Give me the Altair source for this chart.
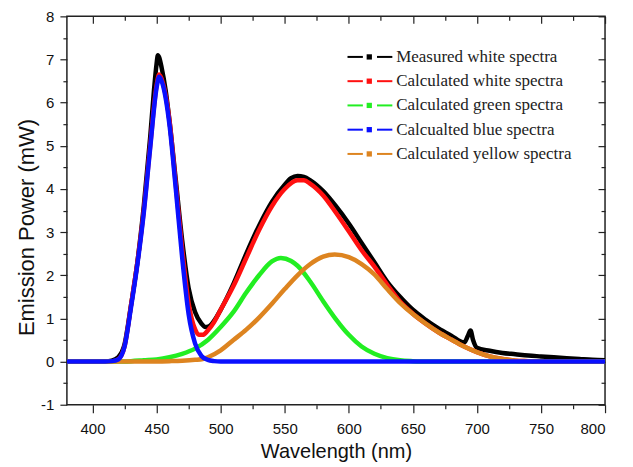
import altair as alt
import pandas as pd

# ---------------- data ----------------
wl_meas = [380, 390, 400, 410, 415, 420, 425, 430, 435, 440, 445, 448, 450, 451, 452, 454, 457,
           460, 465, 470, 475, 480, 485, 488, 491, 495, 500, 510, 520, 530, 540, 550, 555, 560,
           565, 570, 580, 590, 600, 610, 620, 630, 640, 650, 660, 670, 680, 690, 693, 695, 697,
           700, 710, 720, 730, 740, 750, 760, 770, 780, 790, 800]
p_meas = [0, 0, 0, 0, 0.02, 0.1, 0.4, 1.3, 2.3, 3.6, 5.2, 6.3, 6.9, 7.1, 7.05, 6.8, 6.3,
          5.6, 4.2, 2.8, 1.7, 1.15, 0.88, 0.8, 0.82, 0.95, 1.2, 1.8, 2.5, 3.15, 3.7, 4.1, 4.25, 4.3,
          4.28, 4.2, 3.95, 3.6, 3.2, 2.75, 2.3, 1.85, 1.5, 1.2, 0.97, 0.77, 0.6, 0.44, 0.6, 0.72, 0.5,
          0.32, 0.25, 0.2, 0.17, 0.14, 0.12, 0.1, 0.08, 0.06, 0.04, 0.03]

wl_white = [380, 400, 415, 420, 425, 430, 435, 440, 445, 450, 452, 455, 460, 465, 470, 475, 480,
            483, 486, 490, 495, 500, 510, 520, 530, 540, 550, 560, 565, 570, 580, 590, 600, 610,
            620, 630, 640, 650, 660, 670, 680, 690, 700, 710, 720, 730, 740, 750, 800]
p_white = [0, 0, 0, 0.05, 0.35, 1.3, 2.3, 3.5, 5.0, 6.4, 6.65, 6.45, 5.6, 4.1, 2.6, 1.35, 0.75,
           0.62, 0.62, 0.72, 0.92, 1.2, 1.75, 2.4, 3.05, 3.6, 4.0, 4.2, 4.2, 4.12, 3.85, 3.45, 3.02, 2.58,
           2.2, 1.78, 1.39, 1.11, 0.88, 0.68, 0.51, 0.35, 0.22, 0.12, 0.06, 0.02, 0.01, 0, 0]

wl_green = [380, 420, 430, 440, 450, 460, 470, 480, 490, 500, 510, 520, 530, 540, 547, 555, 560,
            570, 580, 590, 600, 610, 620, 630, 640, 650, 660, 700, 800]
p_green = [0, 0, 0.01, 0.03, 0.05, 0.1, 0.18, 0.3, 0.5, 0.8, 1.15, 1.6, 2.0, 2.32, 2.4, 2.33, 2.22,
           1.85, 1.4, 0.98, 0.62, 0.35, 0.18, 0.08, 0.03, 0.01, 0, 0, 0]

wl_blue = [380, 400, 410, 415, 420, 425, 430, 435, 440, 445, 450, 452, 455, 460, 465, 470, 475,
           480, 485, 490, 495, 500, 800]
p_blue = [0, 0, 0, 0.01, 0.05, 0.35, 1.25, 2.25, 3.45, 4.95, 6.35, 6.6, 6.4, 5.5, 4.0, 2.4, 1.1,
          0.42, 0.13, 0.04, 0.01, 0, 0]

wl_yellow = [380, 440, 460, 470, 480, 486, 490, 500, 510, 520, 530, 540, 550, 560, 570, 580, 589,
             600, 610, 620, 630, 640, 650, 660, 670, 680, 690, 700, 710, 720, 730, 740, 750, 800]
p_yellow = [0, 0, 0.01, 0.02, 0.04, 0.06, 0.1, 0.26, 0.5, 0.74, 1.02, 1.34, 1.68, 2.0, 2.26, 2.43, 2.48,
            2.42, 2.26, 2.02, 1.68, 1.36, 1.1, 0.88, 0.68, 0.51, 0.35, 0.22, 0.12, 0.06, 0.02, 0.01, 0, 0]

legend_labels = ["Measured white spectra", "Calculated white spectra", "Calculated green spectra",
                 "Calcualted blue spectra", "Calculated yellow spectra"]
legend_colors = ["#000000", "#ff1010", "#22ee22", "#0a10ff", "#dd8420"]

x_major = [400, 450, 500, 550, 600, 650, 700, 750, 800]
x_minor = [425, 475, 525, 575, 625, 675, 725, 775]
y_major = [-1, 0, 1, 2, 3, 4, 5, 6, 7, 8]
y_minor = [-0.5, 0.5, 1.5, 2.5, 3.5, 4.5, 5.5, 6.5, 7.5]

# ---------------- chart ----------------
xs = alt.Scale(domain=[380, 800], nice=False, zero=False)
ys = alt.Scale(domain=[-1, 8], nice=False, zero=False)
AX = "#222222"
SANS = "Liberation Sans"


def series(wl, p, color):
    df = pd.DataFrame({"wl": wl, "p": p})
    return alt.Chart(df).mark_line(color=color, strokeWidth=4.5, interpolate="monotone", clip=True).encode(
        x=alt.X("wl:Q", scale=xs, axis=None),
        y=alt.Y("p:Q", scale=ys, axis=None),
    )


base_df = pd.DataFrame({"wl": wl_meas, "p": p_meas})


def axis_layer(xaxis, yaxis):
    return alt.Chart(base_df).mark_line(opacity=0).encode(
        x=alt.X("wl:Q", scale=xs, axis=xaxis),
        y=alt.Y("p:Q", scale=ys, axis=yaxis),
    )


common = dict(domain=False, grid=False, tickColor=AX, tickWidth=1.2)

ax_main = axis_layer(
    alt.Axis(orient="bottom", values=x_major, tickSize=8, labelPadding=9, labelExpr="'' + datum.value",
             labelFont=SANS, labelFontSize=15, labelColor="#111",
             title="Wavelength (nm)", titleFont=SANS, titleFontSize=20, titleFontWeight="normal",
             titleColor="#111", titleY=47, titleBaseline="middle", **common),
    alt.Axis(orient="left", values=y_major, tickSize=7, labelPadding=6, labelExpr="'' + datum.value",
             labelFont=SANS, labelFontSize=15, labelColor="#111",
             title="Emission Power (mW)", titleFont=SANS, titleFontSize=22, titleFontWeight="normal",
             titleColor="#111", titleX=-40, titleY=211, titleAngle=270, titleAlign="center",
             titleBaseline="middle", **common),
)
ax_minor = axis_layer(
    alt.Axis(orient="bottom", values=x_minor, tickSize=4, labels=False, title=None, **common),
    alt.Axis(orient="left", values=y_minor, tickSize=4, labels=False, title=None, **common),
)
ax_mirror = axis_layer(
    alt.Axis(orient="top", values=x_major, tickSize=7, offset=-7, labels=False, title=None, **common),
    alt.Axis(orient="right", values=y_major, tickSize=7, offset=-7, labels=False, title=None, **common),
)
ax_mirror_minor = axis_layer(
    alt.Axis(orient="top", values=x_minor, tickSize=4, offset=-4, labels=False, title=None, **common),
    alt.Axis(orient="right", values=y_minor, tickSize=4, offset=-4, labels=False, title=None, **common),
)

# legend (built inside the plot, positioned in data units)
leg_df = pd.DataFrame({"label": legend_labels, "row": list(range(len(legend_labels)))})
leg_color = alt.Color("label:N", scale=alt.Scale(domain=legend_labels, range=legend_colors), legend=None)
leg_base = alt.Chart(leg_df).transform_calculate(ly="7.06 - 0.562 * datum.row")
leg_y = alt.Y("ly:Q", scale=ys, axis=None)

seg1 = leg_base.mark_rule(strokeWidth=2).encode(
    x=alt.XDatum(599, type="quantitative", scale=xs, axis=None), x2=alt.X2Datum(611), y=leg_y, color=leg_color)
seg2 = leg_base.mark_rule(strokeWidth=2).encode(
    x=alt.XDatum(622, type="quantitative", scale=xs, axis=None), x2=alt.X2Datum(634), y=leg_y, color=leg_color)
sq = leg_base.mark_point(shape="square", filled=True, size=28, opacity=1).encode(
    x=alt.XDatum(616, type="quantitative", scale=xs, axis=None), y=leg_y, color=leg_color)
txt = leg_base.mark_text(align="left", baseline="middle", font="Liberation Serif", fontSize=17,
                         color="#222222").encode(
    x=alt.XDatum(637, type="quantitative", scale=xs, axis=None), y=leg_y, text="label:N")

chart = alt.layer(
    ax_main, ax_minor, ax_mirror, ax_mirror_minor,
    series(wl_meas, p_meas, legend_colors[0]),
    series(wl_white, p_white, legend_colors[1]),
    series(wl_green, p_green, legend_colors[2]),
    series(wl_yellow, p_yellow, legend_colors[4]),
    series(wl_blue, p_blue, legend_colors[3]),
    seg1, seg2, sq, txt,
).resolve_axis(x="independent", y="independent").properties(
    width=539, height=389,
    autosize=alt.AutoSizeParams(type="none"),
    padding={"left": 59, "top": 8, "right": 20, "bottom": 62},
    background="white",
).configure_view(stroke=AX, strokeWidth=1.5)

chart.save("out.html", embed_options={"renderer": "svg", "actions": False})
